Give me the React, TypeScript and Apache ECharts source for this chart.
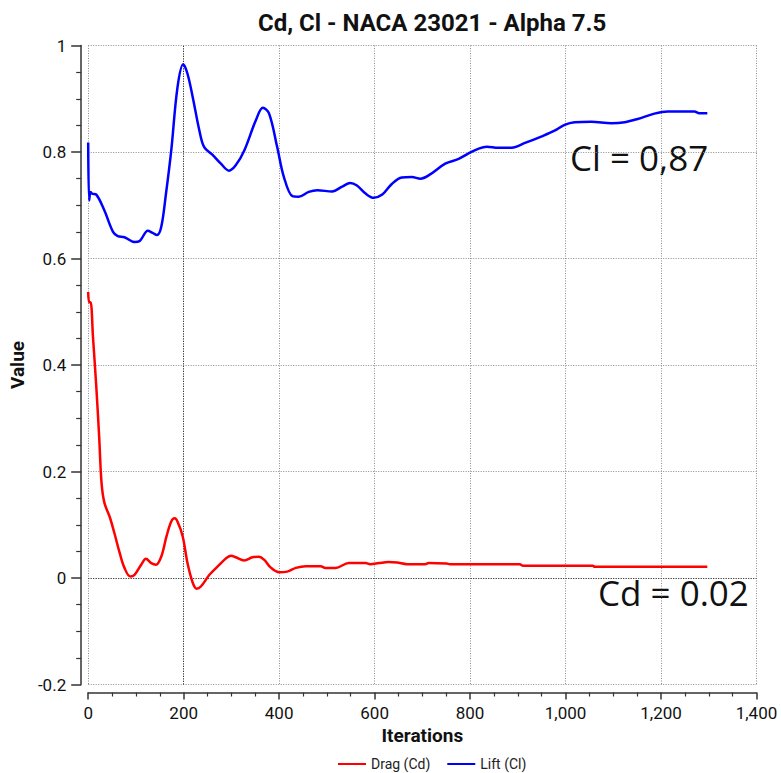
import React, { useEffect, useRef } from "react";
import * as echarts from "echarts";

const TITLE = "Cd, Cl - NACA 23021 - Alpha 7.5";
const X_NAME = "Iterations";
const Y_NAME = "Value";
const SERIES_NAMES = ["Drag (Cd)", "Lift (Cl)"];

const clIterations = [0, 2, 5, 8, 17, 34, 52, 62, 76, 97, 108, 125, 135, 144, 153, 163, 174, 187, 199, 208, 219, 233, 243, 260, 278, 295, 309, 327, 351, 366, 379, 396, 410, 428, 441, 462, 480, 511, 532, 549, 563, 581, 598, 616, 636, 657, 678, 696, 713, 748, 776, 796, 817, 835, 859, 887, 915, 949, 977, 998, 1019, 1054, 1096, 1124, 1151, 1186, 1214, 1270, 1280, 1297];
const clValues = [0.818, 0.709, 0.725, 0.722, 0.720, 0.690, 0.650, 0.642, 0.640, 0.631, 0.633, 0.652, 0.648, 0.644, 0.659, 0.722, 0.803, 0.921, 0.965, 0.947, 0.903, 0.840, 0.809, 0.795, 0.778, 0.765, 0.775, 0.803, 0.859, 0.883, 0.872, 0.809, 0.753, 0.717, 0.716, 0.725, 0.728, 0.726, 0.735, 0.742, 0.737, 0.722, 0.714, 0.720, 0.740, 0.752, 0.753, 0.750, 0.756, 0.778, 0.787, 0.797, 0.806, 0.810, 0.808, 0.808, 0.817, 0.829, 0.840, 0.851, 0.856, 0.857, 0.854, 0.856, 0.862, 0.872, 0.876, 0.876, 0.873, 0.873];

const cdIterations = [0, 2, 5, 10, 17, 23, 28, 34, 45, 55, 66, 76, 88, 97, 111, 121, 132, 142, 153, 164, 174, 181, 187, 198, 208, 219, 227, 236, 254, 275, 289, 299, 309, 327, 344, 358, 369, 382, 400, 417, 435, 456, 487, 497, 518, 546, 581, 591, 609, 629, 647, 668, 706, 713, 751, 758, 904, 911, 1057, 1061, 1297];
const cdValues = [0.537, 0.518, 0.518, 0.453, 0.359, 0.265, 0.178, 0.141, 0.115, 0.084, 0.047, 0.019, 0.003, 0.006, 0.025, 0.036, 0.028, 0.025, 0.040, 0.078, 0.106, 0.112, 0.106, 0.078, 0.028, -0.009, -0.020, -0.016, 0.006, 0.025, 0.037, 0.042, 0.039, 0.033, 0.039, 0.040, 0.034, 0.020, 0.011, 0.012, 0.019, 0.022, 0.022, 0.019, 0.019, 0.028, 0.028, 0.026, 0.028, 0.030, 0.029, 0.026, 0.026, 0.028, 0.027, 0.026, 0.026, 0.023, 0.023, 0.021, 0.021];

const ANNOT_CL = "Cl = 0,87";
const ANNOT_CD = "Cd = 0.02";
const REF_X = 200;
const REF_Y = 0;

const X_MIN = 0, X_MAX = 1400, X_STEP = 200;
const Y_MIN = -0.2, Y_MAX = 1, Y_STEP = 0.2;

const zip = (xs: number[], ys: number[]) => xs.map((x, i) => [x, ys[i]]);

export default function App() {
  const ref = useRef<HTMLDivElement>(null);
  useEffect(() => {
    if (!ref.current) return;
    const chart = echarts.init(ref.current, null, { renderer: "svg" });
    const labelFont = "Roboto, 'DejaVu Sans', sans-serif";
    const dotted = { color: "#8c8c8c", type: [1, 1.5] as any, width: 1 };
    chart.setOption({
      animation: false,
      backgroundColor: "#ffffff",
      title: {
        text: TITLE,
        left: 253,
        top: 6,
        textStyle: { fontFamily: labelFont, fontWeight: "bold", fontSize: 24, color: "#111" },
      },
      legend: {
        left: 333,
        top: 752,
        icon: "rect",
        itemWidth: 28,
        itemHeight: 2,
        itemGap: 17,
        textStyle: { fontFamily: labelFont, fontSize: 14, color: "#222" },
        data: SERIES_NAMES,
      },
      grid: { left: 87.5, right: 24.5, top: 45.5, bottom: 88.5, containLabel: false },
      xAxis: {
        type: "value",
        min: X_MIN,
        max: X_MAX,
        interval: X_STEP,
        offset: 8,
        name: X_NAME,
        nameLocation: "middle",
        nameGap: 32,
        nameTextStyle: { fontFamily: labelFont, fontWeight: "bold", fontSize: 19, color: "#111" },
        axisLine: { show: true, onZero: false, lineStyle: { color: "#333", width: 1.5 } },
        axisTick: { show: true, length: 7, lineStyle: { color: "#333", width: 1.5 } },
        minorTick: { show: true, splitNumber: 4, length: 4, lineStyle: { color: "#333", width: 1.2 } },
        axisLabel: {
          margin: 12,
          fontFamily: labelFont,
          fontSize: 17,
          color: "#111",
          formatter: (v: number) => v.toLocaleString("en-US"),
        },
        splitLine: { show: true, lineStyle: dotted },
      },
      yAxis: {
        type: "value",
        min: Y_MIN,
        max: Y_MAX,
        interval: Y_STEP,
        offset: 7,
        name: Y_NAME,
        nameLocation: "middle",
        nameGap: 49,
        nameRotate: 90,
        nameTextStyle: { fontFamily: labelFont, fontWeight: "bold", fontSize: 19, color: "#111" },
        axisLine: { show: true, onZero: false, lineStyle: { color: "#333", width: 1.5 } },
        axisTick: { show: true, length: 10, lineStyle: { color: "#333", width: 1.5 } },
        minorTick: { show: true, splitNumber: 4, length: 5, lineStyle: { color: "#333", width: 1.2 } },
        axisLabel: {
          margin: 15,
          fontFamily: labelFont,
          fontSize: 17,
          color: "#111",
          formatter: (v: number) => String(Math.round(v * 10) / 10),
        },
        splitLine: { show: true, lineStyle: dotted },
      },
      graphic: [
        {
          type: "text",
          left: 570,
          top: 140,
          style: { text: ANNOT_CL, font: "35px 'Open Sans', sans-serif", fill: "#111" },
        },
        {
          type: "text",
          left: 598,
          top: 575,
          style: { text: ANNOT_CD, font: "35px 'Open Sans', sans-serif", fill: "#111" },
        },
      ],
      series: [
        {
          name: SERIES_NAMES[0],
          type: "line",
          data: zip(cdIterations, cdValues),
          showSymbol: false,
          smooth: 0.35,
          color: "#ff0000",
          lineStyle: { color: "#ff0000", width: 2.5 },
          z: 3,
          markLine: {
            silent: true,
            symbol: "none",
            label: { show: false },
            lineStyle: { color: "#333", type: [1, 1.5] as any, width: 1 },
            data: [{ xAxis: REF_X }, { yAxis: REF_Y }],
            z: 1,
          },
        },
        {
          name: SERIES_NAMES[1],
          type: "line",
          data: zip(clIterations, clValues),
          showSymbol: false,
          smooth: 0.35,
          color: "#0000ff",
          lineStyle: { color: "#0000ff", width: 2.5 },
          z: 3,
        },
      ],
    });
    return () => chart.dispose();
  }, []);
  return <div ref={ref} style={{ width: 781, height: 773, position: "absolute", left: 0, top: 0 }} />;
}
